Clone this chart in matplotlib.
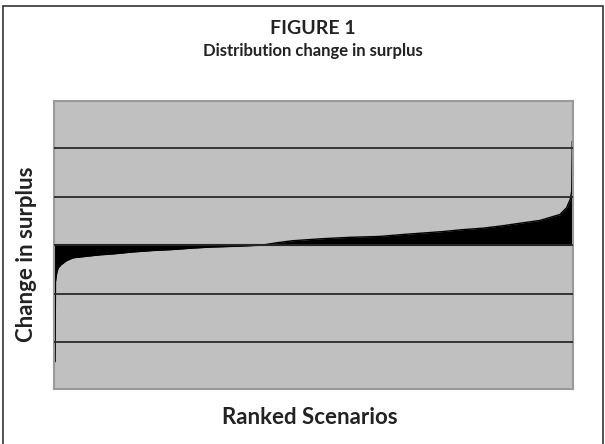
import matplotlib.pyplot as plt
from matplotlib.patches import Rectangle

# ranked scenarios (0..1000) and change in surplus
ranks = [0, 1, 2, 4, 7, 13, 23, 36, 61, 87, 113, 151, 190, 228, 267, 300,
         357, 400, 429, 458, 512, 566, 627, 672, 710, 749, 787, 826, 864,
         903, 936, 955, 961, 974, 987, 994, 997, 998, 1000]
surplus = [-2.40, -2.40, -0.75, -0.59, -0.47, -0.40, -0.32, -0.26, -0.23,
           -0.20, -0.18, -0.14, -0.11, -0.09, -0.06, -0.04, -0.02, 0.0,
           0.05, 0.09, 0.13, 0.16, 0.18, 0.22, 0.25, 0.28, 0.32, 0.35, 0.40,
           0.46, 0.51, 0.57, 0.59, 0.63, 0.77, 0.94, 1.11, 2.14, 2.14]
grid_levels = [-2, -1, 0, 1, 2]

plt.rcParams['font.family'] = ['Lato', 'DejaVu Sans']

fig = plt.figure(figsize=(6.05, 4.44), dpi=100)
ax = fig.add_axes([0.090, 0.1232, 0.8576, 0.6493])

ax.set_facecolor('#c0c0c0')
ax.fill_between(ranks, surplus, 0, color='black', linewidth=0)
ax.plot(ranks, surplus, color='black', lw=1)
ax.axhline(0, color='black', lw=1.5)

ax.set_xlim(0, 1000)
ax.set_ylim(-2.97, 2.97)
ax.set_yticks(grid_levels)
ax.set_xticks([])
ax.tick_params(left=False, labelleft=False)
ax.grid(axis='y', color='#2a2a2a', lw=1.3)
ax.set_axisbelow(False)
for s in ax.spines.values():
    s.set_color('#9a9a9a')
    s.set_linewidth(1.5)

ax.set_ylabel('Change in surplus', fontsize=16, fontweight='bold', color='#222222', va='center')
ax.yaxis.set_label_coords(-0.053, 0.47)
ax.set_xlabel('Ranked Scenarios', fontsize=16, fontweight='bold', color='#222222', va='center')
ax.xaxis.set_label_coords(0.4925, -0.0995)

fig.text(0.517, 0.936, 'FIGURE 1', ha='center', va='center', fontsize=14,
         fontweight='bold', color='#222222')
fig.text(0.517, 0.885, 'Distribution change in surplus', ha='center', va='center',
         fontsize=12, fontweight='bold', color='#222222')

# outer frame
fig.patches.append(Rectangle((0.0045, -0.05), 0.9915, 1.0365, transform=fig.transFigure,
                             fill=False, edgecolor='#333333', lw=1.2))

fig.savefig('out.png', dpi=100)
